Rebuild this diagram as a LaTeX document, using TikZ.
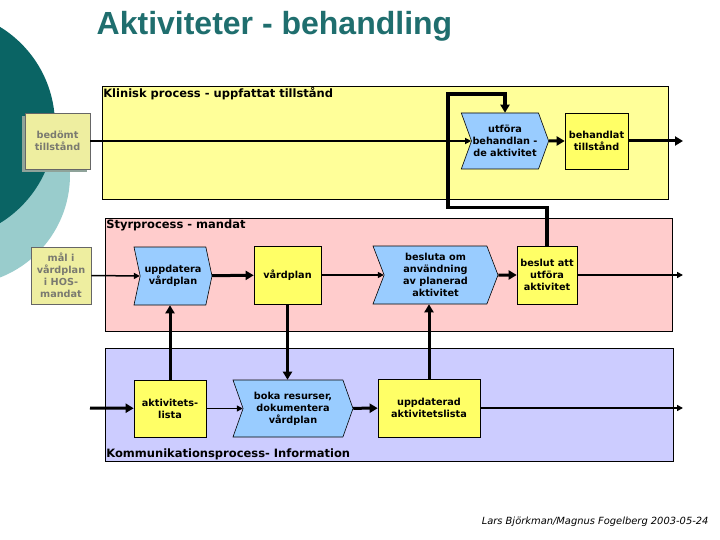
\documentclass[tikz,border=0pt]{standalone}
\usepackage{fontspec}
\setmainfont{DejaVu Sans}
\newfontfamily\titlefont{Liberation Sans}
\usetikzlibrary{positioning,calc,arrows.meta,shapes.symbols,shadows}
\definecolor{slidetitle}{HTML}{1F6E6E}
\definecolor{circdark}{HTML}{0A6464}
\definecolor{circlight}{HTML}{99CCCC}
\definecolor{klinbg}{HTML}{FFFF99}
\definecolor{styrbg}{HTML}{FFCCCC}
\definecolor{kommbg}{HTML}{CCCCFF}
\definecolor{infofill}{HTML}{FFFF66}
\definecolor{procfill}{HTML}{99CCFF}
\definecolor{extfill}{HTML}{EEEEA0}
\definecolor{exttext}{HTML}{7A7A70}
\definecolor{extshadow}{HTML}{8FA39A}

\begin{document}
\begin{tikzpicture}[x=1pt, y=-1pt,
  panel/.style={draw=black, line width=0.8pt, minimum width=566pt,
             minimum height=113pt, inner sep=0pt},
  lbl/.style={font=\bfseries\fontsize{11.5}{13}\selectfont, inner sep=1.5pt},
  info/.style={draw=black, line width=0.6pt, fill=infofill, align=center,
             inner sep=1pt, font=\bfseries\fontsize{9.7}{12}\selectfont},
  proc/.style={signal, signal to=east, signal from=west, draw=black,
             line width=0.6pt, fill=procfill, align=center, inner sep=1pt,
             font=\bfseries\fontsize{9.7}{12}\selectfont},
  ext/.style={draw=black!60, line width=0.6pt, fill=extfill, text=exttext,
             align=center, inner sep=1pt,
             font=\bfseries\fontsize{9.7}{12}\selectfont},
  flow/.style={line width=1.5pt, -{Triangle[length=6pt,width=6pt]}},
  mainflow/.style={line width=3pt, -{Triangle[length=8pt,width=9pt]}},
]
\useasboundingbox (0,0) rectangle (720,540);
\fill[white] (0,0) rectangle (720,540);

% slide background
\begin{scope}
  \clip (0,0) rectangle (720,540);
  \fill[circlight] (-40,175) circle[radius=110pt];
  \fill[circdark] (-60,125) circle[radius=115pt];
\end{scope}

\node[font=\titlefont\bfseries\fontsize{32}{36}\selectfont, text=slidetitle,
  anchor=base] (title) at (274.5,35) {Aktiviteter - behandling};

% process lanes
\node[panel, fill=klinbg] (klin) at (385,142.5) {};
\node[panel, fill=styrbg, minimum width=567pt] (styr) at (388.5,274.5) {};
\node[panel, fill=kommbg, minimum width=568pt] (komm) at (389,404.5) {};
\node[lbl, anchor=north west] (klinlbl) at (klin.north west) {Klinisk process - uppfattat tillstånd};
\node[lbl, anchor=north west] (styrlbl) at (styr.north west) {Styrprocess - mandat};
\node[lbl, anchor=south west] (kommlbl) at (komm.south west) {Kommunikationsprocess- Information};

\node[ext, minimum width=65pt, minimum height=56pt,
  drop shadow={shadow xshift=-3pt, shadow yshift=-3pt, fill=extshadow, opacity=1}]
  (bedomt) at (57.5,141) {bedömt\\tillstånd};
\node[proc, minimum width=84pt, minimum height=56pt, signal pointer angle=140]
  (utfora) at (505,141) {utföra\\behandlan -\\de aktivitet};
\node[info, minimum width=63pt, minimum height=56pt]
  (behandlat) at (596.5,141) {behandlat\\tillstånd};

\node[ext, minimum width=60pt, minimum height=57pt]
  (mal) at (61,275.5) {mål i\\vårdplan\\i HOS-\\mandat};
\node[proc, minimum width=78pt, minimum height=58pt, signal pointer angle=156]
  (uppdatera) at (173,276) {uppdatera\\vårdplan};
\node[info, minimum width=67pt, minimum height=58pt]
  (vardplan) at (287.5,275) {vårdplan};
\node[proc, minimum width=125pt, minimum height=58pt, signal pointer angle=138]
  (besluta) at (435.5,275) {besluta om\\användning\\av planerad\\aktivitet};
\node[info, minimum width=60pt, minimum height=58pt]
  (beslut) at (547,275) {beslut att\\utföra\\aktivitet};

\node[info, minimum width=72pt, minimum height=57pt]
  (aktlista) at (170,408.5) {aktivitets-\\lista};
\node[proc, minimum width=120pt, minimum height=57pt, signal pointer angle=141]
  (boka) at (293,408.5) {boka resurser,\\dokumentera\\vårdplan};
\node[info, minimum width=102pt, minimum height=58pt]
  (uppdlista) at (429,408) {uppdaterad\\aktivitetslista};

\coordinate (klinut) at (683,141);
\coordinate (styrut) at (683,275);
\coordinate (kommut) at (683,408);
\coordinate (kommin) at (90,408);

\draw[flow, line width=1.2pt] (bedomt.east) -- (utfora.west);
\draw[mainflow] (utfora) -- (behandlat);
\draw[mainflow] (behandlat) -- (klinut);
\draw[mainflow, line width=3.5pt]
  (beslut.north) -- ++(0,-38) -| (448,94) -| (utfora.north);

\draw[flow] (mal.east) -- (uppdatera.west);
\draw[mainflow] (uppdatera) -- (vardplan);
\draw[flow] (vardplan) -- (besluta.west);
\draw[mainflow] (besluta) -- (beslut);
\draw[flow] (beslut) -- (styrut);

\draw[mainflow] (vardplan.south) -- (vardplan.south |- boka.north);
\draw[mainflow] (aktlista.north) -- (aktlista.north |- uppdatera.south);
\draw[mainflow] (uppdlista.north) -- (uppdlista.north |- besluta.south);

\draw[mainflow] (kommin) -- (aktlista);
\draw[flow] (aktlista) -- (boka.west);
\draw[mainflow] (boka) -- (uppdlista);
\draw[flow] (uppdlista) -- (kommut);

\node[font=\itshape\fontsize{9.9}{11}\selectfont, anchor=base east]
  (footer) at (712,524) {Lars Björkman/Magnus Fogelberg 2003-05-24};
\end{tikzpicture}
\end{document}
